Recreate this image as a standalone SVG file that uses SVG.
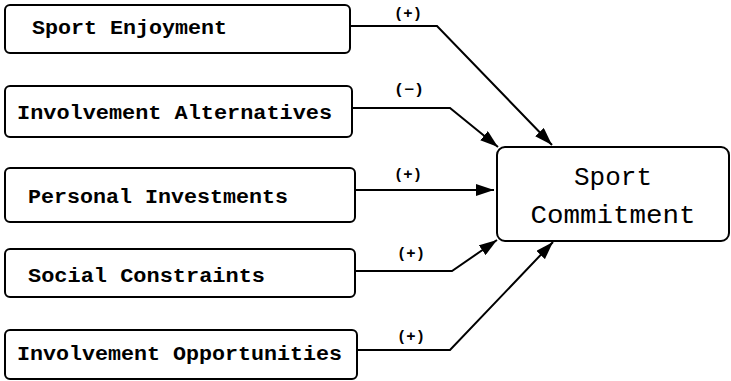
<svg xmlns="http://www.w3.org/2000/svg" width="731" height="381" viewBox="0 0 731 381">
<defs>
<style>
.box{fill:#fff;stroke:#000;stroke-width:2}
.lbl{font-family:"Liberation Mono","Courier New",monospace;font-weight:bold;font-size:20px;fill:#000}
.sign{font-family:"Liberation Mono","Courier New",monospace;font-weight:bold;font-size:14px;fill:#000}
.big{font-family:"Liberation Mono","Courier New",monospace;font-size:26px;fill:#000}
.con{fill:none;stroke:#000;stroke-width:2;marker-end:url(#ah)}
</style>
<marker id="ah" viewBox="0 0 18 12" refX="18" refY="6" markerWidth="18" markerHeight="12" markerUnits="userSpaceOnUse" orient="auto">
<path d="M0,0 L18,6 L0,12 z" fill="#000"/>
</marker>
</defs>
<rect width="731" height="381" fill="#fff"/>
<g id="n1"><rect class="box" x="5" y="5" width="345" height="48" rx="5"/><text class="lbl" x="32" y="34" textLength="195" lengthAdjust="spacingAndGlyphs">Sport Enjoyment</text></g>
<g id="n2"><rect class="box" x="5" y="86" width="347" height="51" rx="5"/><text class="lbl" x="17" y="119" textLength="315" lengthAdjust="spacingAndGlyphs">Involvement Alternatives</text></g>
<g id="n3"><rect class="box" x="5" y="168" width="350" height="54" rx="5"/><text class="lbl" x="28" y="203" textLength="260" lengthAdjust="spacingAndGlyphs">Personal Investments</text></g>
<g id="n4"><rect class="box" x="5" y="249" width="350" height="48" rx="5"/><text class="lbl" x="28" y="282" textLength="237" lengthAdjust="spacingAndGlyphs">Social Constraints</text></g>
<g id="n5"><rect class="box" x="5" y="330" width="352" height="49" rx="5"/><text class="lbl" x="17" y="360" textLength="325" lengthAdjust="spacingAndGlyphs">Involvement Opportunities</text></g>
<g id="target"><rect class="box" x="497" y="147" width="232" height="94" rx="8"/><text class="big" x="613" y="185" text-anchor="middle">Sport</text><text class="big" x="613" y="223" text-anchor="middle" textLength="165" lengthAdjust="spacingAndGlyphs">Commitment</text></g>
<g id="connectors">
<polyline class="con" points="350,26 437,26 552,145"/>
<polyline class="con" points="352,108 450,108 498,147"/>
<polyline class="con" points="355,190 494,190"/>
<polyline class="con" points="355,271 452,271 497,240"/>
<polyline class="con" points="357,350 450,350 553,242"/>
<text class="sign" x="408" y="18" text-anchor="middle" textLength="28" lengthAdjust="spacingAndGlyphs">(+)</text>
<text class="sign" x="409" y="94" text-anchor="middle" textLength="30" lengthAdjust="spacingAndGlyphs">(−)</text>
<text class="sign" x="408" y="179" text-anchor="middle" textLength="28" lengthAdjust="spacingAndGlyphs">(+)</text>
<text class="sign" x="411" y="258" text-anchor="middle" textLength="28" lengthAdjust="spacingAndGlyphs">(+)</text>
<text class="sign" x="411" y="341" text-anchor="middle" textLength="28" lengthAdjust="spacingAndGlyphs">(+)</text>
</g>
</svg>
